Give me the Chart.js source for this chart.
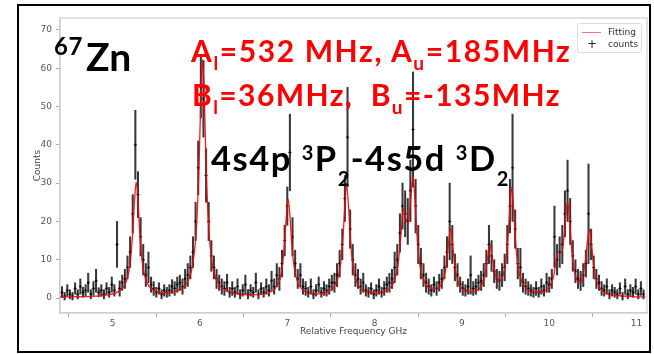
<!DOCTYPE html>
<html>
<head>
<meta charset="utf-8">
<script src="https://cdn.jsdelivr.net/npm/chart.js@4.4.1/dist/chart.umd.min.js"></script>
<style>
  html,body{margin:0;padding:0;background:#fff;}
  body{width:654px;height:354px;position:relative;overflow:hidden;}
  #wrap{position:absolute;left:0;top:0;width:654px;height:354px;}
  #frame{position:absolute;left:17px;top:4px;width:634px;height:349px;box-sizing:border-box;border:2px solid #000;pointer-events:none;}
  .big{position:absolute;white-space:nowrap;font-family:Lato,'Open Sans',sans-serif;font-weight:700;line-height:1;}
  .sup,.sub{position:relative;}
  #legend{position:absolute;left:577px;top:23px;width:65px;height:30px;box-sizing:border-box;border:1px solid #dcdcdc;border-radius:3px;background:rgba(255,255,255,0.85);font-family:'DejaVu Sans',sans-serif;font-size:9px;color:#333;}
  #legend .row{position:absolute;left:0;width:100%;height:12px;line-height:12px;}
  #legend .lab{position:absolute;left:30px;}
</style>
</head>
<body>
<div id="wrap"><canvas id="c" width="654" height="354"></canvas></div>

<div class="big" style="left:54px;top:34px;font-size:24px;letter-spacing:0.5px;color:#000;">67</div>
<div class="big" style="left:86px;top:37px;font-size:39px;color:#000;">Zn</div>

<div class="big" style="left:191px;top:35px;font-size:30px;letter-spacing:1.6px;color:#ff0000;">A<span class="sub" style="font-size:19px;top:8.4px;">l</span>=532 MHz, A<span class="sub" style="font-size:19px;top:8.4px;">u</span>=185MHz</div>
<div class="big" style="left:192px;top:78.5px;font-size:30px;letter-spacing:1.4px;color:#ff0000;">B<span class="sub" style="font-size:19px;top:8.4px;">l</span>=36MHz,&nbsp; B<span class="sub" style="font-size:19px;top:8.4px;">u</span>=-135MHz</div>

<div class="big" style="left:211px;top:141px;font-size:34.5px;letter-spacing:1.5px;color:#000;">4s4p <span class="sup" style="font-size:20px;top:-11px;">3</span>P<span class="sub" style="font-size:20px;top:15px;">2</span>-4s5d <span class="sup" style="font-size:20px;top:-11px;">3</span>D<span class="sub" style="font-size:20px;top:15px;">2</span></div>

<div id="legend">
  <div class="row" style="top:2px;"><span style="position:absolute;left:4px;top:6px;width:19px;height:0;border-top:1.5px solid rgba(255,60,60,0.7);"></span><span class="lab">Fitting</span></div>
  <div class="row" style="top:14px;"><span style="position:absolute;left:9px;font-size:12px;color:#222;">+</span><span class="lab">counts</span></div>
</div>

<div id="frame"></div>

<script>
// ---- data ----
const xTicks = [5, 6, 7, 8, 9, 10, 11];
const yTicks = [0, 10, 20, 30, 40, 50, 60, 70];

// fitted curve (Relative Frequency GHz, Counts)
const fitX = [4.40,4.60,4.80,4.95,5.05,5.12,5.17,5.20,5.23,5.25,
  5.27,5.29,5.31,5.34,5.38,5.44,5.52,5.62,5.72,5.80,
  5.86,5.92,5.96,5.99,6.01,6.03,6.05,6.07,6.10,6.14,
  6.20,6.28,6.40,6.55,6.70,6.80,6.86,6.91,6.94,6.97,
  6.99,7.01,7.03,7.05,7.08,7.12,7.18,7.26,7.35,7.45,
  7.53,7.58,7.61,7.64,7.66,7.68,7.70,7.72,7.75,7.79,
  7.85,7.95,8.05,8.13,8.19,8.23,8.27,8.30,8.33,8.355,
  8.385,8.41,8.44,8.46,8.49,8.53,8.59,8.65,8.72,8.77,
  8.81,8.84,8.87,8.90,8.93,8.97,9.03,9.10,9.17,9.22,
  9.26,9.29,9.32,9.35,9.39,9.43,9.47,9.50,9.53,9.55,
  9.57,9.59,9.61,9.64,9.68,9.74,9.82,9.92,10.00,10.05,
  10.10,10.14,10.17,10.19,10.21,10.23,10.26,10.30,10.34,10.38,
  10.41,10.44,10.46,10.48,10.51,10.55,10.61,10.70,10.80,10.95,
  11.10];
const fitY = [0.28,0.35,0.5,0.84,1.48,2.78,5.36,9.1,17.1,25.4,
  30.35,25.4,17.2,9.2,4.74,2.48,1.57,1.38,1.73,2.65,
  4.4,9.2,18.4,35.0,52.1,62.3,52.2,35.0,18.4,9.2,
  4.3,2.2,1.2,0.85,0.95,1.56,2.4,4.6,7.75,14.55,
  21.6,25.8,21.7,14.6,7.85,4.1,2.1,1.3,1.1,1.5,
  2.75,5.2,8.8,16.5,24.5,29.3,24.5,16.5,8.75,4.45,
  2.3,1.45,1.45,1.95,3.0,4.7,9.0,16.0,23.3,21.0,
  19.4,24.8,31.9,26.4,14.9,7.2,3.5,2.5,2.6,3.8,
  6.9,12.7,18.1,12.6,6.8,3.5,2.0,1.6,1.95,3.05,
  5.5,9.8,13.9,10.2,5.55,4.6,5.95,9.15,16.5,24.1,
  28.9,24.0,16.3,8.6,4.7,2.5,1.55,1.65,2.85,5.7,
  12.0,11.8,16.0,21.8,25.3,21.3,12.1,6.0,4.0,5.5,
  8.9,15.2,17.9,15.0,8.3,4.0,1.85,0.95,0.6,0.4,
  0.3];

// measured counts with error
const countX = [4.42,4.45,4.48,4.51,4.54,4.57,4.60,4.63,4.66,4.69,
  4.72,4.75,4.78,4.81,4.84,4.87,4.90,4.93,4.96,4.99,
  5.02,5.05,5.08,5.11,5.14,5.17,5.20,5.23,5.26,5.29,
  5.32,5.35,5.38,5.41,5.44,5.47,5.50,5.53,5.56,5.59,
  5.62,5.65,5.68,5.71,5.74,5.77,5.80,5.83,5.86,5.89,
  5.92,5.95,5.98,6.01,6.04,6.07,6.10,6.13,6.16,6.19,
  6.22,6.25,6.28,6.31,6.34,6.37,6.40,6.43,6.46,6.49,
  6.52,6.55,6.58,6.61,6.64,6.67,6.70,6.73,6.76,6.79,
  6.82,6.85,6.88,6.91,6.94,6.97,7.00,7.03,7.06,7.09,
  7.12,7.15,7.18,7.21,7.24,7.27,7.30,7.33,7.36,7.39,
  7.42,7.45,7.48,7.51,7.54,7.57,7.60,7.63,7.66,7.69,
  7.72,7.75,7.78,7.81,7.84,7.87,7.90,7.93,7.96,7.99,
  8.02,8.05,8.08,8.11,8.14,8.17,8.20,8.23,8.26,8.29,
  8.32,8.35,8.38,8.41,8.44,8.47,8.50,8.53,8.56,8.59,
  8.62,8.65,8.68,8.71,8.74,8.77,8.80,8.83,8.86,8.89,
  8.92,8.95,8.98,9.01,9.04,9.07,9.10,9.13,9.16,9.19,
  9.22,9.25,9.28,9.31,9.34,9.37,9.40,9.43,9.46,9.49,
  9.52,9.55,9.58,9.61,9.64,9.67,9.70,9.73,9.76,9.79,
  9.82,9.85,9.88,9.91,9.94,9.97,10.00,10.03,10.06,10.09,
  10.12,10.15,10.18,10.21,10.24,10.27,10.30,10.33,10.36,10.39,
  10.42,10.45,10.48,10.51,10.54,10.57,10.60,10.63,10.66,10.69,
  10.72,10.75,10.78,10.81,10.84,10.87,10.90,10.93,10.96,10.99,
  11.02,11.05,11.08];
const countY = [1.5,0.5,2,1,0.5,2.5,1,3,1.5,2,
  4,1,2.5,4.5,1.5,2,1,2.5,1.5,3.5,
  2,14,2.5,4,5,8,12,22,40,27,
  16,10,6,8,3.5,2.5,1.5,2.5,1,2,
  1.5,2,3,2.5,3.5,4,3,5,6,8,
  12,20,34,55,52,32,20,11,8,5,
  4,3,2.5,4,1.5,2.5,1.5,3,1,2,
  3.5,1,2,1.5,4,1,2.5,1.5,3,2,
  4.5,3,6,5,9,15,24,38,16,9,
  5,6,3,2.5,1.5,3,1,2,3.5,1.5,
  2.5,2,3,4,4,6,9,14,26,42,
  18,10,6,5,3,4,2,1.5,2.5,1,
  2,3,1.5,2.5,3.5,4,5,8,10,17,
  24,22,20,28,44,24,14,9,6,4,
  3,2,3.5,2.5,4,5,8,12,20,14,
  8,6,3.5,2.5,2,3,6,2.5,3,4,
  4.5,6,9,14,11,7,5,4.5,6,8,
  14,24,34,18,9,8,4,3,2.5,2,
  1.5,2.5,1.5,3,2,4,3.5,5,16,10,
  12,14,22,28,20,11,7,5,4.5,6,
  9,22,14,8,5,4,2.5,2,3,1,
  2,1.5,1,2.5,0.5,3,1,2,1.5,3,
  1,2.5,1];
const countErr = [1.5,1,1.5,1.2,1,1.5,1.2,2,1.3,1.5,
  2.5,1.2,1.8,3,1.2,1.5,1.2,1.5,1.3,2,
  1.5,6,2,2,2.5,3,4,5,9,6,
  5,4,3,4,2,1.8,1.3,1.5,1.2,1.5,
  1.3,1.5,1.8,1.8,2,2,2,2.5,3,3,
  4,5,7,8,10,7,5,4,3,2.5,
  2,2,1.8,2.2,1.3,1.8,1.3,2,1.2,1.5,
  2.5,1.2,1.5,1.3,2.5,1.2,1.5,1.3,2,1.5,
  2.5,2,3,3,3.5,4,5,10,5,3.5,
  2.5,3,2,1.8,1.3,2,1.2,1.5,2,1.3,
  1.8,1.5,2,2,2.5,3,3.5,4,6,13,
  5,4,3,2.5,2,2.5,1.5,1.3,1.5,1.2,
  1.5,2,1.3,1.8,2,2.5,2.5,4,4,5,
  6,6,6,8,15,7,5,4,3,2.5,
  2,1.5,2,1.8,2.2,2.5,3,4,10,5,
  3.5,3,2,1.8,1.5,2,5,1.8,2,2,
  2.5,3,3.5,5,4,3,2.5,2.5,3,3.5,
  5,7,14,5,4,5,2.5,2,1.8,1.5,
  1.3,1.8,1.3,2,1.5,2.5,2,2.5,8,4,
  4,5,6,8,6,4,3,2.5,2.5,3,
  3.5,13,4,3,2.5,2,1.8,1.5,2,1.2,
  1.5,1.3,1.2,1.5,1,2,1.2,1.5,1.3,2,
  1.2,1.8,1.2];

// ---- build datasets from the arrays ----
const fitData = fitX.map((x, i) => ({x: x, y: fitY[i]}));
const pointData = countX.map((x, i) => ({x: x, y: countY[i]}));
const barData = countX.map((x, i) => ({x: x, y: [Math.max(-0.5, countY[i] - countErr[i]), countY[i] + countErr[i]]}));

const tickFont = {family: "'DejaVu Sans', sans-serif", size: 9};

const spines = {
  id: 'spines',
  beforeDatasetsDraw(chart) {
    const {ctx, chartArea: a} = chart;
    ctx.save();
    ctx.strokeStyle = '#cfcfcf';
    ctx.lineWidth = 1.2;
    ctx.strokeRect(a.left, a.top, a.right - a.left, a.bottom - a.top);
    ctx.restore();
  }
};

new Chart(document.getElementById('c'), {
  type: 'line',
  data: {
    datasets: [
      {
        label: 'Fitting',
        data: fitData,
        borderColor: 'rgba(255,0,0,0.9)',
        borderWidth: 1.3,
        pointRadius: 0,
        cubicInterpolationMode: 'monotone',
        fill: false,
        order: 0
      },
      {
        label: 'counts',
        data: pointData,
        showLine: false,
        pointStyle: 'cross',
        pointRadius: 1.6,
        pointBorderWidth: 1,
        borderColor: 'rgba(0,0,0,0.8)',
        backgroundColor: 'rgba(0,0,0,0.8)',
        order: 1
      },
      {
        type: 'bar',
        label: 'err',
        data: barData,
        backgroundColor: 'rgba(0,0,0,0.78)',
        borderWidth: 0,
        barThickness: 1.4,
        grouped: false,
        order: 2
      }
    ]
  },
  options: {
    responsive: false,
    devicePixelRatio: 1,
    animation: false,
    layout: {padding: {left: 0, right: 7, top: 18, bottom: 0}},
    plugins: {legend: {display: false}, tooltip: {enabled: false}},
    scales: {
      x: {
        type: 'linear',
        min: 4.397,
        max: 11.12,
        offset: false,
        afterFit(s) { s.height = 41; },
        afterBuildTicks(s) { s.ticks = xTicks.map(v => ({value: v})); },
        grid: {drawOnChartArea: false, drawTicks: true, tickLength: 4, color: '#aaa'},
        border: {display: true, color: '#c8c8c8', width: 1.2},
        ticks: {font: tickFont, color: '#555', padding: 1, maxRotation: 0, autoSkip: false},
        title: {display: true, text: 'Relative Frequency GHz', font: tickFont, color: '#444', padding: {top: 17, bottom: 17}}
      },
      y: {
        type: 'linear',
        min: -3.9,
        max: 73.1,
        afterFit(s) { s.width = 60; },
        afterBuildTicks(s) { s.ticks = yTicks.map(v => ({value: v})); },
        grid: {drawOnChartArea: false, drawTicks: true, tickLength: 4, color: '#aaa'},
        border: {display: true, color: '#c8c8c8', width: 1.2},
        ticks: {font: tickFont, color: '#555', padding: 4},
        title: {display: true, text: 'Counts', font: tickFont, color: '#444', padding: {top: 32, bottom: 32}}
      }
    }
  },
  plugins: [spines]
});
</script>
</body>
</html>
